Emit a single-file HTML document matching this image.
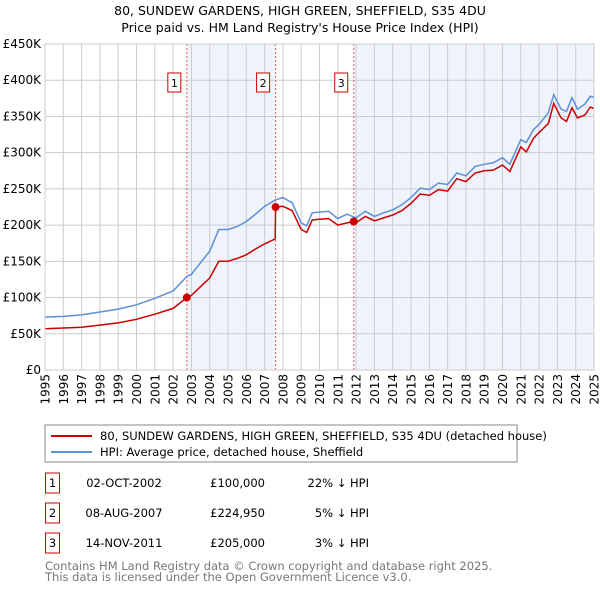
<!DOCTYPE html>
<html><head><meta charset="utf-8"><style>
body{margin:0;background:#fff;font-family:"Liberation Sans","DejaVu Sans",sans-serif;}
svg text{font-family:"DejaVu Sans","Liberation Sans",sans-serif;}
</style></head><body>
<svg id="c" width="600" height="590" xmlns="http://www.w3.org/2000/svg">
<text x="300" y="15" text-anchor="middle" font-size="12.5">80, SUNDEW GARDENS, HIGH GREEN, SHEFFIELD, S35 4DU</text>
<text x="300" y="32" text-anchor="middle" font-size="12.5">Price paid vs. HM Land Registry's House Price Index (HPI)</text>
<g id="plot"></g>
<rect x="45" y="425" width="472" height="37" fill="#fff" stroke="#888"/>
<line x1="51" y1="436" x2="92" y2="436" stroke="#cc0000" stroke-width="2"/>
<text x="100" y="440" font-size="11.5">80, SUNDEW GARDENS, HIGH GREEN, SHEFFIELD, S35 4DU (detached house)</text>
<line x1="51" y1="452" x2="92" y2="452" stroke="#5b8fd6" stroke-width="2"/>
<text x="100" y="456" font-size="11.5">HPI: Average price, detached house, Sheffield</text>
<g id="table" font-size="11.5"></g>
<text x="45" y="570" font-size="11.5" fill="#777">Contains HM Land Registry data © Crown copyright and database right 2025.</text>
<text x="45" y="581" font-size="11.5" fill="#777">This data is licensed under the Open Government Licence v3.0.</text>
</svg>
<script>
const hpiYears=[1995,1996,1997,1998,1999,2000,2001,2002,2002.75,2003,2003.5,2004,2004.5,2005,2005.5,2006,2006.5,2007,2007.6,2008,2008.5,2009,2009.3,2009.6,2010,2010.5,2011,2011.5,2012,2012.5,2013,2013.5,2014,2014.5,2015,2015.5,2016,2016.5,2017,2017.5,2018,2018.5,2019,2019.5,2020,2020.4,2021,2021.3,2021.7,2022,2022.5,2022.8,2023.2,2023.5,2023.8,2024.1,2024.5,2024.8,2025];
const hpiValues=[73,74,76,80,84,90,99,109,129,132,148,164,194,194,198,205,215,226,235,238,231,203,199,217,218,219,209,215,210,219,212,217,221,228,238,251,249,258,256,272,268,281,284,286,293,284,318,314,332,339,355,380,360,357,376,360,367,378,376];
const redYears=[1995,1996,1997,1998,1999,2000,2001,2002,2002.75,2003,2003.5,2004,2004.5,2005,2005.5,2006,2006.5,2007,2007.58,2007.6,2008,2008.5,2009,2009.3,2009.6,2010,2010.5,2011,2011.5,2011.87,2012,2012.5,2013,2013.5,2014,2014.5,2015,2015.5,2016,2016.5,2017,2017.5,2018,2018.5,2019,2019.5,2020,2020.4,2021,2021.3,2021.7,2022,2022.5,2022.8,2023.2,2023.5,2023.8,2024.1,2024.5,2024.8,2025];
const redValues=[57,58,59,62,65,70,77,85,100,103,115,127,150,150,154,159,167,174,181,225,226,220,194,190,207,208,209,200,203,205,203,212,206,210,214,220,230,243,241,249,247,264,260,272,275,276,283,274,308,301,320,328,340,368,348,343,362,348,352,363,361];
const saleYears=[2002.75,2007.6,2011.87];
const saleValues=[100,224.95,205];
const saleLabels=["1","2","3"];
const saleDates=["02-OCT-2002","08-AUG-2007","14-NOV-2011"];
const salePrices=["£100,000","£224,950","£205,000"];
const saleDiffs=["22% ↓ HPI","5% ↓ HPI","3% ↓ HPI"];
const yTicks=[0,50,100,150,200,250,300,350,400,450];
const yTickLabels=["£0","£50K","£100K","£150K","£200K","£250K","£300K","£350K","£400K","£450K"];
const xTicks=[];for(let y=1995;y<=2025;y++)xTicks.push(y);

const L=45,R=594,T=44,B=370;
const xs=v=>L+(v-1995)/30*(R-L);
const ys=v=>B-v/450*(B-T);
const NS="http://www.w3.org/2000/svg";
const plot=document.getElementById('plot');
function mk(tag,attrs,parent){const e=document.createElementNS(NS,tag);for(const k in attrs)e.setAttribute(k,attrs[k]);(parent||plot).appendChild(e);return e;}
let s1=mk('rect',{x:xs(saleYears[0]),y:T,width:xs(saleYears[1])-xs(saleYears[0]),height:B-T,fill:'#eef3fc'});


let s2=mk('rect',{x:xs(saleYears[2]),y:T,width:R-xs(saleYears[2]),height:B-T,fill:'#eef3fc'});


xTicks.forEach(t=>{
 let g=mk('line',{x1:xs(t),x2:xs(t),y1:T,y2:B,stroke:'#cccccc','stroke-width':1});
 
 
 const px=xs(t)+4.5,py=374;
 let tx=mk('text',{x:px,y:py,'text-anchor':'end','font-size':12,transform:`rotate(-90 ${px} ${py})`});
 tx.textContent=t;
 
 
});
yTicks.forEach((t,i)=>{
 let g=mk('line',{x1:L,x2:R,y1:ys(t),y2:ys(t),stroke:'#cccccc','stroke-width':1});
 
 
 let tx=mk('text',{x:41,y:ys(t)+4,'text-anchor':'end','font-size':12});
 tx.textContent=yTickLabels[i];
 
 
});
saleYears.forEach((yr,i)=>{
 let l=mk('line',{x1:xs(yr),x2:xs(yr),y1:T,y2:B,stroke:'#e06060','stroke-width':1,'stroke-dasharray':'2,2'});
 
 
 let r=mk('rect',{x:xs(yr)-19,y:73,width:13,height:19,fill:'#fff',stroke:'#cc0000'});
 
 
 let t=mk('text',{x:xs(yr)-12.5,y:87,'text-anchor':'middle','font-size':11});
 t.textContent=saleLabels[i];
 
 
});
const path=(X,Y)=>X.map((x,i)=>(i?'L':'M')+xs(x).toFixed(1)+','+ys(Y[i]).toFixed(1)).join('');
let hp=mk('path',{d:path(hpiYears,hpiValues),fill:'none',stroke:'#5b8fd6','stroke-width':1.5});


let rp=mk('path',{d:path(redYears,redValues),fill:'none',stroke:'#cc0000','stroke-width':1.5});


saleYears.forEach((yr,i)=>{
 let c=mk('circle',{cx:xs(yr),cy:ys(saleValues[i]),r:4,fill:'#cc0000'});
 
 
});
let ax=mk('rect',{x:L,y:T,width:R-L,height:B-T,fill:'none',stroke:'#cccccc'});


const tb=document.getElementById('table');
saleYears.forEach((yr,i)=>{
 const cy=483+i*30;
 let r=mk('rect',{x:45.5,y:cy-10,width:14,height:20,fill:'#fff',stroke:'#cc0000'},tb);
 
 
 const cells=[[saleLabels[i],52.5,'middle','table-row-number'],[saleDates[i],124,'middle','table-sale-date'],[salePrices[i],265,'end','table-sale-price'],[saleDiffs[i],369,'end','table-hpi-diff']];
 cells.forEach(c=>{
  let t=mk('text',{x:c[1],y:cy+4,'text-anchor':c[2]},tb);
  t.textContent=c[0];
  
  
 });
});
</script>
</body></html>
